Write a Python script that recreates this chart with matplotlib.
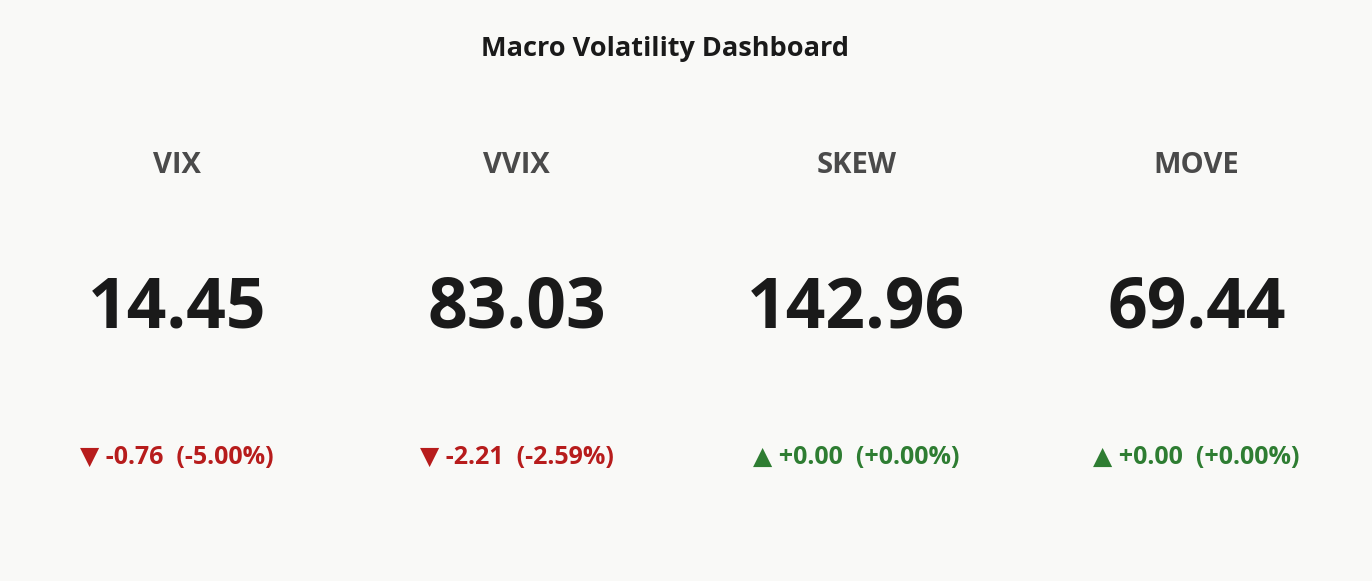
import matplotlib
matplotlib.use("Agg")
import matplotlib.pyplot as plt

names = ["VIX", "VVIX", "SKEW", "MOVE"]
values = [14.45, 83.03, 142.96, 69.44]
changes = [-0.76, -2.21, 0.00, 0.00]
pct = [-5.00, -2.59, 0.00, 0.00]

fam = ["Open Sans", "DejaVu Sans"]
bg = "#f9f9f7"
fig = plt.figure(figsize=(13.72, 5.81), dpi=100, facecolor=bg)
fig.text(0.485, 0.916, "Macro Volatility Dashboard", ha="center", va="center",
         fontsize=19.5, fontweight="bold", color="#1a1a1a", family=fam)
w = 0.2477
for i, (n, v, c, p) in enumerate(zip(names, values, changes, pct)):
    x = 0.005 + (i + 0.5) * w
    fig.text(x, 0.716, n, ha="center", va="center", fontsize=21, fontweight="bold",
             color="#4a4a4a", family=fam)
    fig.text(x, 0.467, f"{v:.2f}", ha="center", va="center", fontsize=50,
             fontweight="bold", color="#1a1a1a", family=fam)
    up = c >= 0
    col = "#2e7d32" if up else "#b71c1c"
    s = f"{'▲' if up else '▼'} {c:+.2f}  ({p:+.2f}%)"
    fig.text(x, 0.212, s, ha="center", va="center", fontsize=18, fontweight="bold",
             color=col, family=fam)
fig.savefig("out.png", dpi=100, facecolor=bg)
